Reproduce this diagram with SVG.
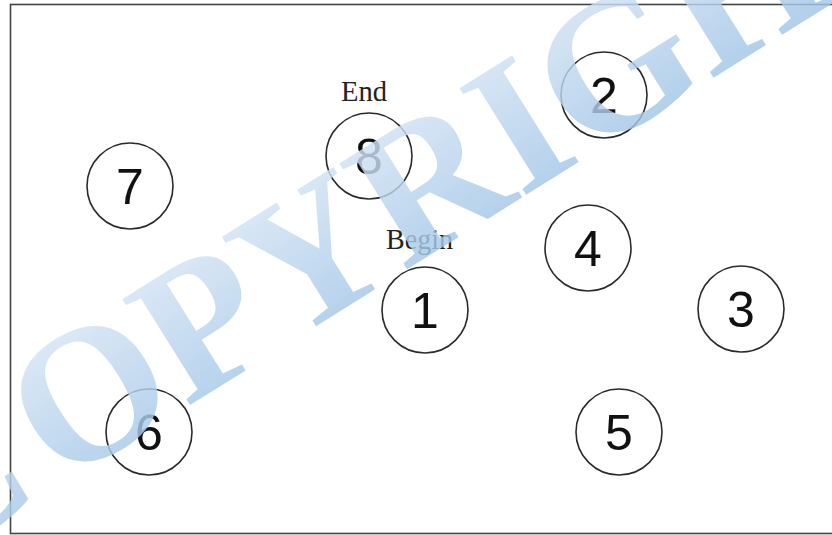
<svg xmlns="http://www.w3.org/2000/svg" width="832" height="535" viewBox="0 0 832 535">
  <style>
    .node circle { fill: none; stroke: #2a2a2a; stroke-width: 1.6; }
    .num { font-family: "Liberation Sans", Arial, sans-serif; font-size: 50px; fill: #111; text-anchor: middle; }
    .lbl { font-family: "Liberation Serif", "Times New Roman", serif; font-size: 29px; fill: #222; }
    .wm { font-family: "Liberation Serif", "Times New Roman", serif; font-size: 192px; font-weight: bold; }
  </style>
  <defs>
    <linearGradient id="wmgrad" x1="0" y1="0" x2="0.15" y2="1">
      <stop offset="0" stop-color="#e4edf8"/>
      <stop offset="1" stop-color="#9bc2e6"/>
    </linearGradient>
  </defs>
  <rect x="0" y="0" width="832" height="535" fill="#ffffff"/>
  <rect id="frame" x="10.5" y="4.5" width="830" height="529" fill="none" stroke="#444" stroke-width="1.6"/>

  <g id="connectors"></g>

  <g id="node1" class="node"><circle cx="425" cy="310" r="43"/><text class="num" x="425" y="328">1</text></g>
  <g id="node2" class="node"><circle cx="604" cy="95" r="43"/><text class="num" x="604" y="113">2</text></g>
  <g id="node3" class="node"><circle cx="741" cy="309" r="43"/><text class="num" x="741" y="327">3</text></g>
  <g id="node4" class="node"><circle cx="588" cy="248" r="43"/><text class="num" x="588" y="266">4</text></g>
  <g id="node5" class="node"><circle cx="619" cy="432" r="43"/><text class="num" x="619" y="450">5</text></g>
  <g id="node6" class="node"><circle cx="149" cy="432" r="43"/><text class="num" x="149" y="450">6</text></g>
  <g id="node7" class="node"><circle cx="130" cy="186" r="43"/><text class="num" x="130" y="204">7</text></g>
  <g id="node8" class="node"><circle cx="369" cy="156" r="43"/><text class="num" x="369" y="174">8</text></g>

  <g id="labels">
    <text class="lbl" x="341" y="101" textLength="46" lengthAdjust="spacingAndGlyphs">End</text>
    <text class="lbl" x="386" y="249" textLength="67" lengthAdjust="spacingAndGlyphs">Begin</text>
  </g>

  <g id="watermark" opacity="0.82">
    <text class="wm" transform="translate(-58 560) rotate(-32)" y="0" fill="url(#wmgrad)"><tspan x="-18">C</tspan><tspan x="138.6">OPYRIGHT</tspan></text>
  </g>
</svg>
